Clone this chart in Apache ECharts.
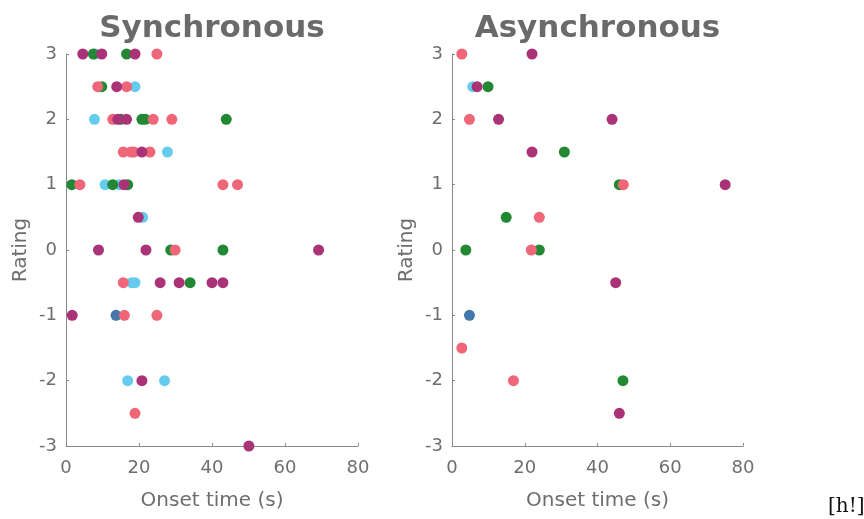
<!DOCTYPE html>
<html>
<head>
<meta charset="utf-8">
<script src="https://cdn.jsdelivr.net/npm/echarts@6/dist/echarts.min.js"></script>
<style>
  html, body { margin: 0; padding: 0; background: #fff; }
  #chart { width: 864px; height: 519px; }
</style>
</head>
<body>
<div id="chart"></div>
<script>
// onset time (s), rating
const panelTitles = ['Synchronous', 'Asynchronous'];
const xTicks = [0, 20, 40, 60, 80];
const yTicks = [-3, -2, -1, 0, 1, 2, 3];

const syncCyan = [[8, 3], [18.9, 2.5], [7.8, 2], [27.8, 1.5], [10.7, 1], [14.6, 1], [21, 0.5], [18, -0.5], [18.9, -0.5], [16.9, -2], [27, -2]];
const syncBlue = [[13.7, -1]];
const syncGreen = [[7.5, 3], [16.6, 3], [9.8, 2.5], [15, 2], [20.8, 2], [21.7, 2], [43.9, 2], [1.6, 1], [12.8, 1], [16.9, 1], [28.7, 0], [43, 0], [34, -0.5]];
const syncPink = [[24.9, 3], [8.7, 2.5], [16.6, 2.5], [12.8, 2], [23.9, 2], [29, 2], [15.7, 1.5], [17.8, 1.5], [18.6, 1.5], [23, 1.5], [3.8, 1], [43, 1], [47, 1], [29.9, 0], [15.7, -0.5], [16, -1], [24.9, -1], [18.9, -2.5]];
const syncMagenta = [[4.6, 3], [9.8, 3], [18.9, 3], [13.9, 2.5], [14.2, 2], [16.6, 2], [20.8, 1.5], [15.9, 1], [19.8, 0.5], [8.9, 0], [21.9, 0], [69.2, 0], [25.8, -0.5], [31, -0.5], [40, -0.5], [43, -0.5], [1.7, -1], [20.8, -2], [50.1, -3]];

const asyncCyan = [[5.7, 2.5]];
const asyncBlue = [[4.8, -1]];
const asyncGreen = [[9.9, 2.5], [30.9, 1.5], [46, 1], [14.9, 0.5], [3.8, 0], [24, 0], [47, -2]];
const asyncPink = [[2.7, 3], [4.8, 2], [47.1, 1], [24, 0.5], [21.8, 0], [2.7, -1.5], [16.9, -2]];
const asyncMagenta = [[22, 3], [6.9, 2.5], [12.8, 2], [44, 2], [22, 1.5], [75.1, 1], [45, -0.5], [46, -2.5]];

const colors = { cyan: '#66CCEE', blue: '#4477AA', green: '#228833', pink: '#EE6677', magenta: '#AA3377' };
const panels = [
  [['cyan', syncCyan], ['blue', syncBlue], ['green', syncGreen], ['pink', syncPink], ['magenta', syncMagenta]],
  [['cyan', asyncCyan], ['blue', asyncBlue], ['green', asyncGreen], ['pink', asyncPink], ['magenta', asyncMagenta]]
];

const chart = echarts.init(document.getElementById('chart'));
const grids = [
  { left: 66, top: 54, width: 292, height: 392 },
  { left: 452, top: 54, width: 291, height: 392 }
];
const axisColor = '#8a8a8a';
const textColor = '#6e6e6e';
const font = '"DejaVu Sans", sans-serif';

const series = [];
panels.forEach((p, i) => {
  p.forEach(([c, d]) => {
    series.push({
      type: 'scatter', xAxisIndex: i, yAxisIndex: i, data: d,
      symbolSize: 11, itemStyle: { color: colors[c], opacity: 1 }
    });
  });
});

chart.setOption({
  animation: false,
  title: panelTitles.map((t, i) => ({
    text: t, left: grids[i].left + grids[i].width / 2 - 5, top: 8, textAlign: 'center',
    textStyle: { fontFamily: font, fontSize: 31, fontWeight: 'bold', color: '#6a6a6a' }
  })),
  grid: grids,
  xAxis: grids.map((g, i) => ({
    gridIndex: i, type: 'value', min: xTicks[0], max: xTicks[xTicks.length - 1], interval: 20,
    name: 'Onset time (s)', nameLocation: 'middle', nameGap: 45,
    nameTextStyle: { fontFamily: font, fontSize: 20, color: textColor },
    axisLine: { show: true, onZero: false, lineStyle: { color: axisColor, width: 1 } },
    axisTick: { show: true, inside: true, length: 3, lineStyle: { color: axisColor } },
    axisLabel: { fontFamily: font, fontSize: 18, color: textColor, margin: 13 },
    splitLine: { show: false }
  })),
  yAxis: grids.map((g, i) => ({
    gridIndex: i, type: 'value', min: yTicks[0], max: yTicks[yTicks.length - 1], interval: 1,
    name: 'Rating', nameLocation: 'middle', nameGap: 35,
    nameTextStyle: { fontFamily: font, fontSize: 20, color: textColor },
    axisLine: { show: true, onZero: false, lineStyle: { color: axisColor, width: 1 } },
    axisTick: { show: true, inside: true, length: 3, lineStyle: { color: axisColor } },
    axisLabel: { fontFamily: font, fontSize: 18, color: textColor, margin: 9 },
    splitLine: { show: false }
  })),
  series: series,
  graphic: [{
    type: 'text', left: 828, top: 497,
    style: { text: '[h!]', font: '20px "DejaVu Serif", "Liberation Serif", serif', fill: '#111' }
  }]
});
</script>
</body>
</html>
